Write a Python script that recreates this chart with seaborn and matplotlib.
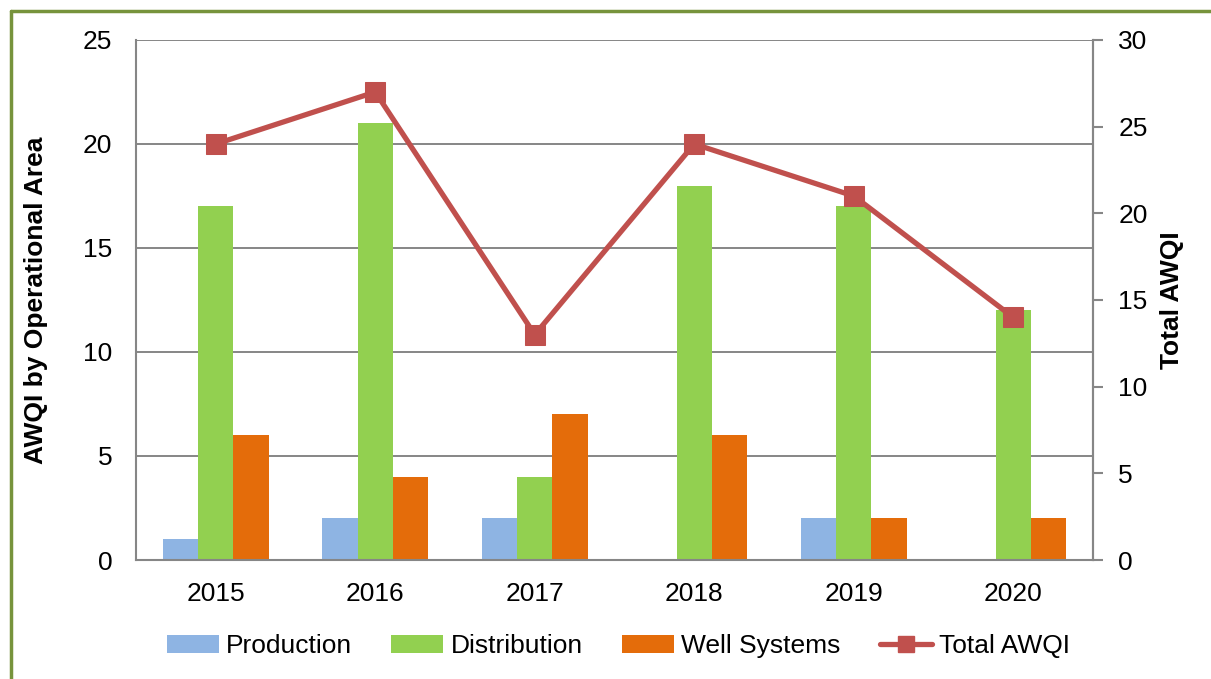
import matplotlib
matplotlib.use("Agg")
import matplotlib.pyplot as plt
import seaborn as sns
import pandas as pd
from matplotlib.lines import Line2D
from matplotlib.patches import Patch

years = ["2015", "2016", "2017", "2018", "2019", "2020"]
production = [1, 2, 2, 0, 2, 0]
distribution = [17, 21, 4, 18, 17, 12]
well_systems = [6, 4, 7, 6, 2, 2]
total_awqi = [24, 27, 13, 24, 21, 14]

series_names = ["Production", "Distribution", "Well Systems"]
colors = ["#8EB4E3", "#92D050", "#E46C0A"]
line_color = "#C0504D"

sns.set_style("white")
plt.rcParams['font.family'] = ['Liberation Sans', 'DejaVu Sans']
plt.rcParams['text.color'] = 'black'
plt.rcParams['axes.labelcolor'] = 'black'
plt.rcParams['xtick.color'] = 'black'
plt.rcParams['ytick.color'] = 'black'

FS = 19

df = pd.DataFrame({
    "Year": years * 3,
    "Value": production + distribution + well_systems,
    "Series": [s for s in series_names for _ in years],
})

fig = plt.figure(figsize=(12.11, 6.79), dpi=100)
ax = fig.add_axes([136/1211, 1-560/679, (1093-136)/1211, (560-40)/679])

sns.barplot(data=df, x="Year", y="Value", hue="Series", palette=colors,
            width=0.667, gap=0, ax=ax, legend=False, saturation=1,
            edgecolor="none", linewidth=0)

ax.set_ylim(0, 25)
ax.set_yticks(range(0, 26, 5))
ax.set_xlim(-0.5, len(years) - 0.5)
ax.yaxis.grid(True, color="#868686", linewidth=1.4)
ax.set_axisbelow(True)
ax.set_xlabel("")
ax.set_ylabel("AWQI by Operational Area", fontsize=FS, fontweight="bold")
ax.yaxis.set_label_coords((48-136)/957, 0.5)
ax.tick_params(axis="both", labelsize=FS, length=0)
ax.tick_params(axis="y", pad=17)
ax.tick_params(axis="x", pad=16)
for s in ["left", "bottom", "right"]:
    ax.spines[s].set_color("#868686")
    ax.spines[s].set_linewidth(1.5)
ax.spines["top"].set_visible(False)

ax2 = ax.twinx()
sns.lineplot(x=list(range(len(years))), y=total_awqi, ax=ax2, color=line_color,
             linewidth=3.8, marker="s", markersize=14, markeredgecolor=line_color,
             markerfacecolor=line_color, legend=False)
ax2.set_ylim(0, 30)
ax2.set_yticks(range(0, 31, 5))
ax2.set_xlim(-0.5, len(years) - 0.5)
ax2.set_ylabel("Total AWQI", fontsize=FS, fontweight="bold")
ax2.yaxis.set_label_coords((1160-136)/957, 0.5)
ax2.tick_params(axis="y", labelsize=FS, length=7.2, width=1.5, color="#868686",
                labelcolor="black", direction="out", pad=11)
for s in ["left", "bottom", "top"]:
    ax2.spines[s].set_visible(False)
ax2.spines["right"].set_color("#868686")
ax2.spines["right"].set_linewidth(1.5)

handles = [Patch(facecolor=c, edgecolor="none") for c in colors]
handles.append(Line2D([0], [0], color=line_color, linewidth=3.8, marker="s",
                      markersize=12))
fig.legend(handles, series_names + ["Total AWQI"], loc="center",
           bbox_to_anchor=(0.5 + 13/1211, 1-646/679), ncol=4, frameon=False,
           fontsize=FS, handlelength=1.97, handletextpad=0.27, columnspacing=1.5)

# green frame (top and left edges visible)
fig.add_artist(Line2D([11/1211, 1], [1-11/679, 1-11/679], color="#77933C",
                      linewidth=2.5, transform=fig.transFigure))
fig.add_artist(Line2D([11/1211, 11/1211], [0, 1-11/679], color="#77933C",
                      linewidth=2.5, transform=fig.transFigure))

fig.savefig("out.png", dpi=100)
